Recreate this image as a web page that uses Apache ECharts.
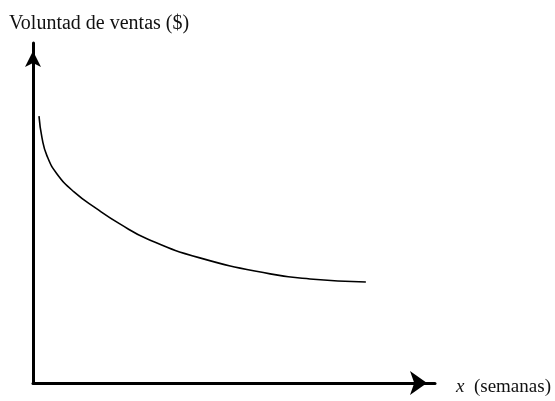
<!DOCTYPE html>
<html>
<head>
<meta charset="utf-8">
<script src="https://cdn.jsdelivr.net/npm/echarts@6/dist/echarts.min.js"></script>
<style>html,body{margin:0;padding:0;background:#fff}#c{width:555px;height:401px}</style>
</head>
<body>
<div id="c"></div>
<script>
var yAxisName = 'Voluntad de ventas ($)';
var xAxisName = 'x';
var xAxisUnit = '(semanas)';
var weeks = [1.49, 2.24, 3.48, 5.97, 10.2, 15.9, 21.6, 28.6, 41.5, 59.0, 68.9, 82.8];
var sales = [78.5, 72.1, 66.8, 61.5, 56.2, 51.2, 46.8, 42.3, 36.8, 32.1, 30.6, 29.7];

var chart = echarts.init(document.getElementById('c'), null, {renderer: 'canvas'});
var serif = '"Liberation Serif", "DejaVu Serif", serif';
chart.setOption({
  animation: false,
  backgroundColor: '#fff',
  title: {
    text: yAxisName, left: 4, top: 9,
    textStyle: {fontFamily: serif, fontSize: 20, fontWeight: 'normal', color: '#111'}
  },
  grid: {left: 33, right: 120, top: 43, bottom: 18},
  xAxis: {
    type: 'value', min: 0, max: 100,
    name: '{i|' + xAxisName + '}  ' + xAxisUnit,
    nameLocation: 'end', nameGap: 21,
    nameTextStyle: {fontFamily: serif, fontSize: 19, color: '#111', verticalAlign: 'middle', padding: [8,0,0,0],
      rich: {i: {fontStyle: 'italic', fontFamily: serif, fontSize: 19, color: '#111'}}},
    axisLine: {show: true, lineStyle: {color: '#000', width: 3}, symbol: ['none', 'arrow'], symbolSize: [18, 17], symbolOffset: [0, -8]},
    axisTick: {show: false}, axisLabel: {show: false}, splitLine: {show: false}
  },
  yAxis: {
    type: 'value', min: 0, max: 100,
    axisLine: {show: true, lineStyle: {color: '#000', width: 3}, symbol: ['none', 'arrow'], symbolSize: [12, 16], symbolOffset: [0, -8]},
    axisTick: {show: false}, axisLabel: {show: false}, splitLine: {show: false}
  },
  series: [{
    type: 'line', data: weeks.map(function(w, i){ return [w, sales[i]]; }),
    smooth: 0.5, symbol: 'none',
    lineStyle: {color: '#000', width: 1.6}
  }]
});
</script>
</body>
</html>
